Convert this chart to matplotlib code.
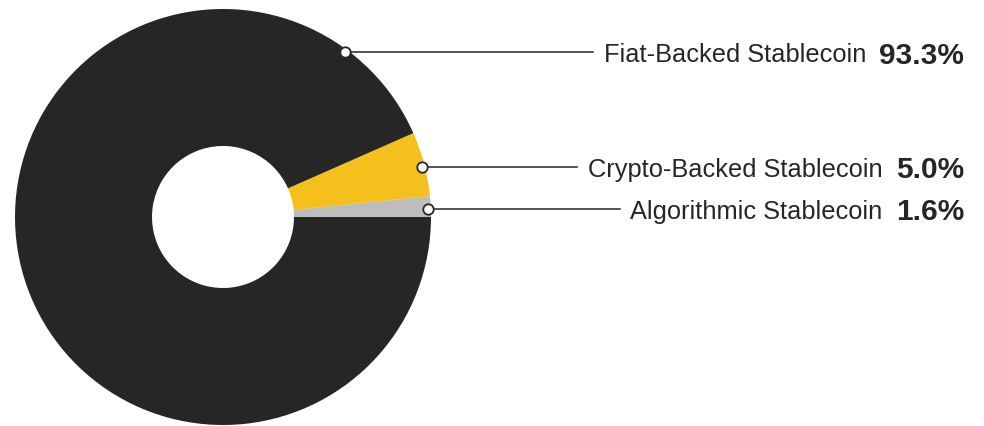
import numpy as np
import matplotlib.pyplot as plt

labels = ['Algorithmic Stablecoin', 'Crypto-Backed Stablecoin', 'Fiat-Backed Stablecoin']
shares = [1.6, 5.0, 93.3]
colors = ['#bdbdbd', '#f5c01c', '#262626']

# layout in pixel units (y up)
cx, cy, R, ring = 223, 209, 208, 137
label_y = [217, 259, 374]
text_right = 964

fig = plt.figure(figsize=(9.84, 4.27), dpi=100)
ax = fig.add_axes([0, 0, 1, 1])

wedges, _ = ax.pie(shares, colors=colors, startangle=0, counterclock=True,
                   center=(cx, cy), radius=R, frame=True,
                   wedgeprops=dict(width=ring, linewidth=0))
ax.set_xlim(0, 984)
ax.set_ylim(0, 427)
ax.axis('off')

fig.canvas.draw()
rend = fig.canvas.get_renderer()
inv = ax.transData.inverted()

for lab, val, ly in zip(labels, shares, label_y):
    # dot just inside the outer edge, on the leader line
    rd = R - 3
    px = cx + np.sqrt(rd**2 - (ly - cy)**2)
    pct = ax.text(text_right, ly - 2.5, '%.1f%%' % val, ha='right', va='center',
                  fontsize=21.5, fontweight='bold', color='#262626',
                  family='Liberation Sans')
    bb = inv.transform(pct.get_window_extent(rend))
    name = ax.text(bb[0][0] - 13, ly - 2.5, lab, ha='right', va='center',
                   fontsize=18.3, color='#262626', family='Liberation Sans')
    bb2 = inv.transform(name.get_window_extent(rend))
    ax.plot([px, bb2[0][0] - 11], [ly, ly], color='#262626', lw=1.1, zorder=3)
    ax.plot(px, ly, 'o', ms=7.5, mfc='white', mec='#262626', mew=1.3, zorder=4)

fig.savefig('out.png', dpi=100)
